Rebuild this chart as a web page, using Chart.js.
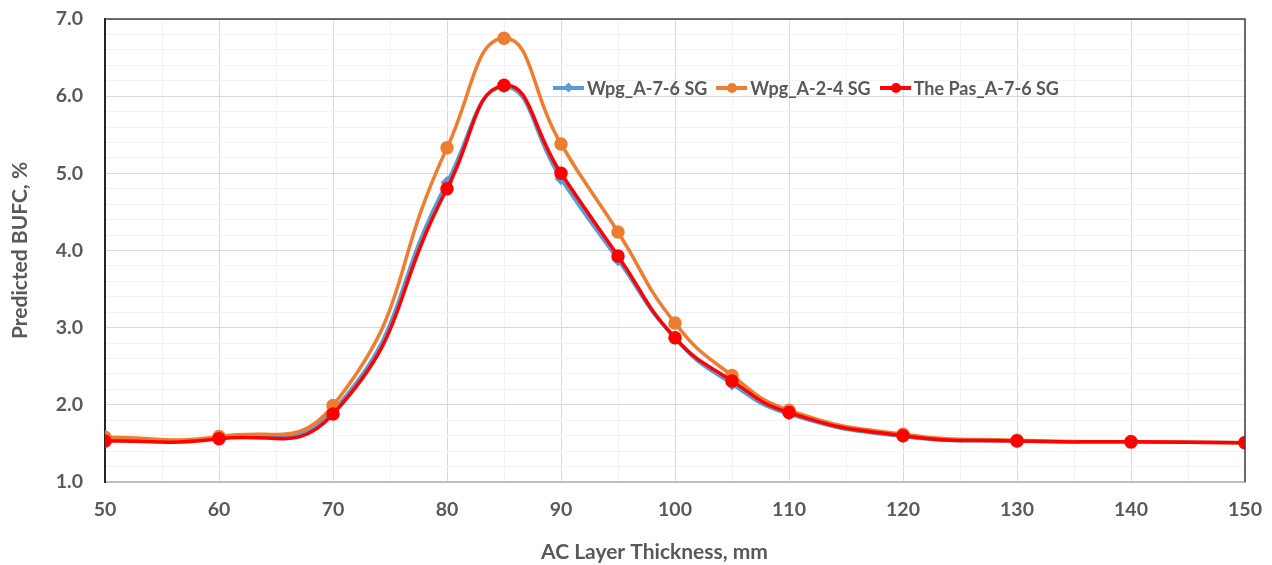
<!DOCTYPE html>
<html>
<head>
<meta charset="utf-8">
<script src="https://cdn.jsdelivr.net/npm/chart.js@4.4.1/dist/chart.umd.min.js"></script>
<style>
  html, body { margin: 0; padding: 0; background: #fff; }
  #wrap { position: relative; width: 1272px; height: 565px; }
  #legend { position: absolute; left: 553px; top: 76px; display: flex; font: bold 18px Lato, sans-serif; color: #595959; }
  .item { display: flex; align-items: center; margin-right: 9px; }
  .sample { position: relative; width: 31px; height: 24px; margin-right: 3px; }
  .sample .ln { position: absolute; left: 0; right: 0; top: 10px; height: 4px; }
  .sample .mk { position: absolute; left: 11px; top: 7px; width: 10px; height: 10px; border-radius: 50%; }
  .sample .mk.dia { border-radius: 0; width: 7px; height: 7px; left: 12px; top: 8px; transform: rotate(45deg); }
</style>
</head>
<body>
<div id="wrap">
  <canvas id="c" width="1272" height="565"></canvas>
  <div id="legend"></div>
</div>
<script>
// Espesores de capa AC (mm)
const espesores = [50, 60, 70, 80, 85, 90, 95, 100, 105, 110, 120, 130, 140, 150];

// Series
const wpgA76 = [1.55, 1.57, 1.92, 4.88, 6.12, 4.93, 3.88, 2.86, 2.27, 1.88, 1.59, 1.53, 1.52, 1.51];
const wpgA24 = [1.58, 1.59, 1.99, 5.33, 6.75, 5.38, 4.24, 3.06, 2.38, 1.93, 1.62, 1.54, 1.52, 1.51];
const thePasA76 = [1.53, 1.56, 1.88, 4.80, 6.14, 5.00, 3.93, 2.87, 2.31, 1.90, 1.60, 1.53, 1.52, 1.51];

const nombres = ['Wpg_A-7-6 SG', 'Wpg_A-2-4 SG', 'The Pas_A-7-6 SG'];
const colores = ['#5B9BD5', '#ED7D31', '#FF0000'];
const tituloX = 'AC Layer Thickness, mm';
const tituloY = 'Predicted BUFC, %';

const fuente = { family: 'Lato, sans-serif', size: 19.5, weight: 'bold' };
const fuenteTitulo = { family: 'Lato, sans-serif', size: 21, weight: 'bold' };
const gris = '#595959';

function serie(i, datos, estilo, radio, orden) {
    return {
        label: nombres[i],
        data: espesores.map((x, k) => ({ x: x, y: datos[k] })),
        borderColor: colores[i],
        backgroundColor: colores[i],
        borderWidth: 3.5,
        pointStyle: estilo,
        pointRadius: radio,
        pointHoverRadius: radio,
        tension: 0.5,
        order: orden
    };
}

const esEntero = v => Math.abs(v - Math.round(v)) < 1e-6;

// Borde superior/derecho del área de trazado y título del eje X
const extras = {
    id: 'extras',
    afterDatasetsDraw(chart) {
        const a = chart.chartArea, ctx = chart.ctx;
        ctx.save();
        ctx.strokeStyle = '#404040';
        ctx.lineWidth = 1.5;
        ctx.beginPath();
        ctx.moveTo(a.left, a.top);
        ctx.lineTo(a.right, a.top);
        ctx.lineTo(a.right, a.bottom);
        ctx.stroke();
        ctx.fillStyle = gris;
        ctx.font = 'bold 21px Lato, sans-serif';
        ctx.textAlign = 'center';
        ctx.textBaseline = 'middle';
        ctx.fillText(tituloX, a.left + (a.right - a.left) * 0.482, a.bottom + 70);
        ctx.restore();
    }
};

const chart = new Chart(document.getElementById('c').getContext('2d'), {
    type: 'line',
    data: {
        datasets: [
            serie(0, wpgA76, 'rectRot', 4, 2),
            serie(1, wpgA24, 'circle', 5, 1),
            serie(2, thePasA76, 'circle', 5, 0)
        ]
    },
    options: {
        responsive: false,
        animation: false,
        layout: { padding: { left: 8, right: 27, top: 19, bottom: 0 } },
        plugins: { legend: { display: false }, tooltip: { enabled: false } },
        scales: {
            x: {
                type: 'linear',
                min: 50, max: 150,
                afterFit: s => { s.height = 83; s.paddingLeft = 0; s.paddingRight = 0; },
                ticks: {
                    stepSize: 5, autoSkip: false, maxRotation: 0,
                    padding: 16, color: gris, font: fuente,
                    callback: v => esEntero(v / 10) ? String(v) : ''
                },
                grid: {
                    drawTicks: false,
                    color: c => esEntero(c.tick.value / 10) ? '#D9D9D9' : '#F2F2F2',
                    lineWidth: 1
                },
                border: { color: '#BFBFBF', width: 2 }
            },
            y: {
                min: 1, max: 7,
                afterFit: s => { s.width = 97; s.paddingTop = 0; s.paddingBottom = 0; },
                ticks: {
                    stepSize: 0.2, autoSkip: false,
                    padding: 22, color: gris, font: fuente,
                    callback: v => esEntero(v) ? v.toFixed(1) : ''
                },
                grid: {
                    drawTicks: false,
                    color: c => esEntero(c.tick.value) ? '#D9D9D9' : '#F2F2F2',
                    lineWidth: 1
                },
                border: { color: '#262626', width: 2 },
                title: { display: true, text: tituloY, color: gris, font: fuenteTitulo, padding: { top: 0, bottom: 0 } }
            }
        }
    },
    plugins: [extras]
});

// Leyenda dentro del área de trazado
const leyenda = document.getElementById('legend');
chart.data.datasets.forEach((d, i) => {
    const item = document.createElement('div');
    item.className = 'item';
    const dia = d.pointStyle === 'rectRot' ? ' dia' : '';
    item.innerHTML = '<span class="sample"><span class="ln" style="background:' + d.borderColor +
        '"></span><span class="mk' + dia + '" style="background:' + d.borderColor + '"></span></span>' +
        '<span>' + d.label + '</span>';
    leyenda.appendChild(item);
});
</script>
</body>
</html>
